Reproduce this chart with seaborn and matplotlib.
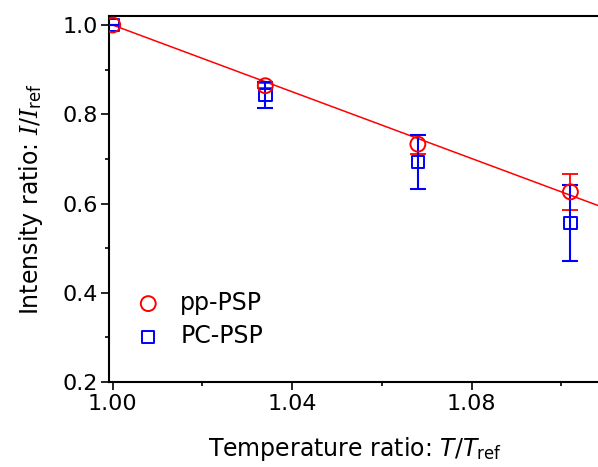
import numpy as np
import pandas as pd
import matplotlib
matplotlib.use("Agg")
import matplotlib.pyplot as plt
import matplotlib.ticker as mticker
import seaborn as sns

sns.set_theme(style="ticks")
plt.rcParams.update({
    "font.family":        ["DejaVu Sans"],
    "text.color":         "black",
    "axes.labelcolor":    "black",
    "mathtext.fontset":   "custom",
    "mathtext.rm":        "DejaVu Sans",
    "mathtext.it":        "DejaVu Serif:italic",
    "mathtext.sf":        "DejaVu Sans:italic",
    "axes.unicode_minus": False,
})

# temperature ratio T/T_ref
TEMP_RATIO = [1.000, 1.034, 1.068, 1.102]

# pp-PSP (red circles)
PP_VALUES = [1.000, 0.864, 0.733, 0.626]
PP_ERR    = [0.000, 0.006, 0.021, 0.040]

# PC-PSP (blue squares)
PC_VALUES = [1.000, 0.843, 0.693, 0.556]
PC_ERR    = [0.000, 0.029, 0.060, 0.085]

# linear fit through the pp-PSP data
FIT_INTERCEPT_X = 1.0
FIT_INTERCEPT_Y = 1.0
FIT_SLOPE       = -3.74

SERIES_LABELS = ["pp-PSP", "PC-PSP"]

RED  = "#ff0000"
BLUE = "#0000ff"

df = pd.DataFrame({
    "T": TEMP_RATIO * 2,
    "I": PP_VALUES + PC_VALUES,
    "err": PP_ERR + PC_ERR,
    "series": [SERIES_LABELS[0]] * len(TEMP_RATIO) + [SERIES_LABELS[1]] * len(TEMP_RATIO),
})

fig = plt.figure(figsize=(5.98, 4.67), dpi=100)
ax = fig.add_axes([0.1828, 0.182, 0.8222, 0.7837])

x_lo, x_hi = 0.99924, 1.10881
fit_x = np.linspace(FIT_INTERCEPT_X, x_hi + 0.01, 50)
fit_y = FIT_INTERCEPT_Y + FIT_SLOPE * (fit_x - FIT_INTERCEPT_X)
sns.lineplot(x=fit_x, y=fit_y, color=RED, linewidth=1.1, ax=ax, zorder=2)

pp = df[df["series"] == SERIES_LABELS[0]]
pc = df[df["series"] == SERIES_LABELS[1]]

ax.errorbar(pp["T"], pp["I"], yerr=pp["err"], fmt="none", ecolor=RED,
            elinewidth=1.3, capsize=5.5, capthick=1.3, zorder=3)
ax.errorbar(pc["T"], pc["I"], yerr=pc["err"], fmt="none", ecolor=BLUE,
            elinewidth=1.5, capsize=5.5, capthick=1.5, zorder=4)

sns.scatterplot(data=pc, x="T", y="I", marker="s", s=80, facecolor="none",
                edgecolor=BLUE, linewidth=1.4, label=SERIES_LABELS[1], ax=ax, zorder=5)
sns.scatterplot(data=pp, x="T", y="I", marker="o", s=115, facecolor="none",
                edgecolor=RED, linewidth=1.4, label=SERIES_LABELS[0], ax=ax, zorder=6)

ax.set_xlim(x_lo, x_hi)
ax.set_ylim(0.2, 1.0202)
ax.xaxis.set_major_locator(mticker.FixedLocator([1.00, 1.04, 1.08]))
ax.xaxis.set_minor_locator(mticker.FixedLocator([1.02, 1.06, 1.10]))
ax.xaxis.set_major_formatter(mticker.FormatStrFormatter("%.2f"))
ax.yaxis.set_major_locator(mticker.MultipleLocator(0.2))
ax.yaxis.set_minor_locator(mticker.MultipleLocator(0.1))
ax.yaxis.set_major_formatter(mticker.FormatStrFormatter("%.1f"))

ax.tick_params(axis="both", which="major", direction="out", length=5.5,
               width=1.2, labelsize=16, color="black", labelcolor="black", pad=3)
ax.tick_params(axis="both", which="minor", direction="out", length=3,
               width=1.2, color="black")

for spine in ax.spines.values():
    spine.set_linewidth(1.5)
    spine.set_color("black")

ax.set_xlabel(r"Temperature ratio: $\mathsf{T}/\mathsf{T}_{\mathrm{ref}}$",
              fontsize=17, color="black", labelpad=15)
ax.set_ylabel(r"Intensity ratio: $I/I_{\mathrm{ref}}$",
              fontsize=17, color="black", labelpad=12)

handles, labels = ax.get_legend_handles_labels()
order = [labels.index(SERIES_LABELS[0]), labels.index(SERIES_LABELS[1])]
leg = ax.legend([handles[i] for i in order], [labels[i] for i in order],
                loc="upper left", bbox_to_anchor=(0.012, 0.275), frameon=False,
                fontsize=17, handletextpad=0.35, labelspacing=0.4, borderaxespad=0.0)
for txt in leg.get_texts():
    txt.set_color("black")

ax.set_facecolor("white")
fig.patch.set_facecolor("white")
fig.savefig("out.png", dpi=100, facecolor="white")
plt.close(fig)
